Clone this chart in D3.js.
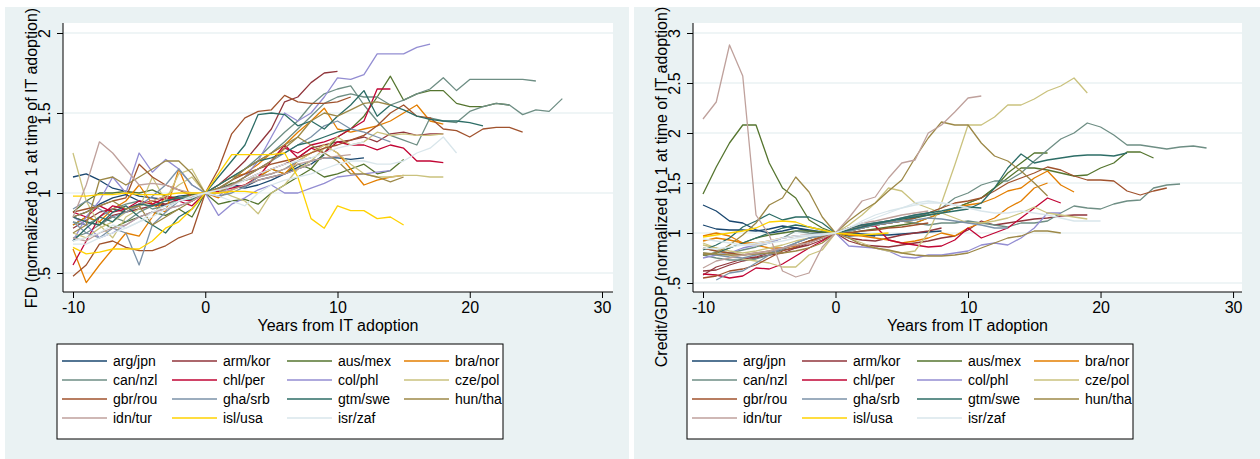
<!DOCTYPE html>
<html lang="en">
<head>
<meta charset="UTF-8">
<title>FD and Credit/GDP around IT adoption</title>
<script src="https://d3js.org/d3.v7.min.js"></script>
<style>
    body { margin: 0; background: #fff; font-family: "Liberation Sans", Arial, sans-serif; }
    svg text { font-family: "Liberation Sans", Arial, sans-serif; fill: #000; }
</style>
</head>
<body>
<svg id="chart" width="1260" height="459"></svg>
<script>
// legend labels, one colour per pair of countries
const pairLabels = ["arg/jpn", "arm/kor", "aus/mex", "bra/nor", "can/nzl", "chl/per", "col/phl",
    "cze/pol", "gbr/rou", "gha/srb", "gtm/swe", "hun/tha", "idn/tur", "isl/usa", "isr/zaf"];

// Stata s2color palette
const palette = ["#1a476f", "#90353b", "#55752f", "#e37e00", "#6e8e84", "#c10534", "#938dd2",
    "#cac27e", "#a0522d", "#7b92a8", "#2d6d66", "#9c8847", "#bfa19c", "#ffd200", "#d9e6eb"];

const firstYear = -10;

// FD, normalized to 1 at IT adoption; every series starts at year -10
const fd_arg_jpn = [
    [1.10,1.12,1.08,1.03,1.01,0.98,0.97,0.96,0.98,0.99,1.00, 1.02,1.04,1.03,1.05,1.08,1.12,1.16,1.20,1.22,1.22,1.21,1.22],
    [0.85,0.88,0.93,0.97,0.99,0.95,0.93,0.92,0.95,0.97,1.00, 1.03,1.05,1.04,1.08,1.10,1.12,1.15,1.18,1.24]];
const fd_arm_kor = [
    [0.85,0.82,0.80,0.86,0.88,0.90,0.92,0.93,0.95,0.97,1.00, 1.05,1.12,1.20,1.30,1.40,1.57,1.60,1.69,1.75,1.76],
    [0.78,0.83,0.88,0.90,0.88,0.92,0.95,0.93,0.96,0.98,1.00, 1.02,1.05,1.08,1.12,1.15,1.18,1.22,1.28,1.30,1.32,1.33,1.35,1.32,1.37,1.38,1.36,1.37,1.37]];
const fd_aus_mex = [
    [0.88,0.95,1.00,1.00,1.01,1.00,1.02,0.98,0.97,0.99,1.00, 0.93,0.95,0.96,0.93,1.00,1.05,1.10,1.15,1.25,1.35,1.40,1.48,1.60,1.73,1.58,1.62,1.64,1.64,1.56,1.54,1.54,1.56,1.55],
    [0.80,0.85,0.82,0.78,0.82,0.85,0.88,0.86,0.90,0.85,1.00, 1.02,1.06,1.08,1.10,1.15,1.12,1.18,1.15,1.10,1.12,1.15,1.18,1.12,1.14,1.21]];
const fd_bra_nor = [
    [0.65,0.44,0.55,0.65,0.75,0.73,0.85,0.98,0.95,0.97,1.00, 1.05,1.10,1.12,1.18,1.25,1.30,1.38,1.45,1.53,1.40,1.38,1.40,1.42,1.45,1.50,1.55,1.45,1.43],
    [0.80,0.85,0.82,0.90,0.95,1.05,0.93,0.88,1.15,0.95,1.00, 0.97,1.02,1.05,1.10,1.15,1.12,1.20,1.25,1.30,1.25,1.15,1.05,1.08,1.10,1.11]];
const fd_can_nzl = [
    [0.72,0.75,0.80,0.85,0.82,0.88,0.92,0.95,0.97,0.98,1.00, 1.02,1.08,1.15,1.20,1.25,1.32,1.40,1.48,1.56,1.60,1.62,1.60,1.60,1.55,1.58,1.62,1.65,1.72,1.64,1.71,1.71,1.71,1.71,1.71,1.70],
    [0.82,0.80,0.85,0.90,0.93,0.95,0.90,0.92,0.96,0.98,1.00, 1.05,1.10,1.15,1.22,1.30,1.38,1.45,1.55,1.62,1.65,1.67,1.55,1.45,1.36,1.33,1.30,1.47,1.45,1.44,1.51,1.54,1.56,1.55,1.49,1.52,1.51,1.59]];
const fd_chl_per = [
    [0.55,0.70,0.85,0.92,0.90,0.95,0.93,0.97,0.95,0.92,1.00, 1.02,1.05,1.10,1.15,1.20,1.28,1.25,1.30,1.32,1.35,1.40,1.45,1.65,1.65],
    [0.88,0.85,0.92,0.88,0.90,0.93,0.95,0.98,0.96,0.95,1.00, 1.01,1.03,1.05,1.10,1.20,1.30,1.22,1.28,1.25,1.32,1.30,1.30,1.27,1.30,1.28,1.20,1.20,1.19]];
const fd_col_phl = [
    [0.70,0.85,0.95,1.10,1.00,1.25,1.13,1.21,1.15,1.05,1.00, 0.98,1.05,1.10,1.20,1.35,1.50,1.45,1.50,1.60,1.72,1.71,1.74,1.87,1.87,1.87,1.91,1.93],
    [0.85,0.80,0.72,0.75,0.80,0.85,0.88,0.90,0.92,0.95,1.00, 0.86,0.93,0.97,1.02,1.05,1.00,1.00,1.03,1.06,1.10,1.11,1.12,1.13,1.14]];
const fd_cze_pol = [
    [1.25,0.95,0.80,0.72,0.85,0.90,1.10,0.95,1.12,1.15,1.00, 1.02,0.98,0.95,0.87,1.00,1.05,1.15,1.20,1.28,1.35,1.30,1.32,1.38,1.36,1.37,1.36,1.36,1.37],
    [0.75,0.72,0.78,0.82,0.88,0.92,0.95,0.98,1.05,1.10,1.00, 1.00,1.05,1.08,1.10,1.12,1.15,1.20,1.25,1.30,1.25,1.18,1.12,1.10,1.10,1.11,1.11,1.10,1.10]];
const fd_gbr_rou = [
    [0.88,0.90,0.92,0.95,0.97,1.18,1.10,1.05,1.02,0.98,1.00, 1.15,1.37,1.47,1.51,1.52,1.61,1.57,1.56,1.56,1.57,1.60],
    [0.48,0.55,0.68,0.70,0.66,0.64,0.64,0.67,0.72,0.75,1.00, 1.03,1.08,1.12,1.15,1.18,1.20,1.22,1.25,1.28,1.30,1.33,1.36,1.42,1.50,1.55,1.48,1.47,1.40,1.39,1.35,1.40,1.41,1.41,1.38]];
const fd_gha_srb = [
    [0.82,0.75,0.72,0.78,0.75,0.55,0.80,0.88,0.95,0.97,1.00, 0.98,1.00,1.04,1.10,1.12,1.15,1.20,1.22],
    [0.90,0.95,0.90,0.85,0.88,0.92,0.98,1.05,1.15,1.05,1.00, 1.02,1.05,1.10,1.15,1.20,1.25,1.30,1.35,1.42,1.45,1.40,1.38,1.35,1.32]];
const fd_gtm_swe = [
    [0.85,0.82,0.80,0.88,0.92,0.85,0.80,0.75,0.85,0.90,1.00, 1.10,1.20,1.30,1.49,1.50,1.49,1.42,1.45,1.40,1.48,1.55,1.64,1.48,1.55,1.52,1.48,1.46,1.45,1.45,1.44,1.42],
    [0.70,0.78,0.85,0.82,0.90,0.93,0.92,0.95,0.97,0.96,1.00, 1.05,1.10,1.15,1.20,1.22,1.25,1.30,1.32,1.35,1.38,1.40]];
const fd_hun_tha = [
    [0.75,0.80,1.08,1.10,1.05,1.10,1.15,1.20,1.20,1.12,1.00, 1.03,1.08,1.15,1.20,1.25,1.30,1.35,1.30,1.25,1.20,1.12,1.12,1.10,1.07,1.10],
    [0.85,0.88,0.92,0.95,0.90,0.92,0.80,0.85,0.90,0.95,1.00, 1.00,1.05,1.10,1.15,1.20,1.28,1.35,1.45,1.50,1.48,1.52,1.56,1.57,1.55]];
const fd_idn_tur = [
    [0.85,1.05,1.32,1.25,1.15,1.05,1.06,1.05,1.02,1.00,1.00, 1.02,1.05,1.08,1.10,1.12,1.15,1.18,1.20,1.22,1.23,1.24],
    [0.72,0.70,0.75,0.78,0.80,0.85,0.88,0.90,0.92,0.95,1.00, 1.00,1.02,1.05,1.08,1.10,1.12,1.15,1.18]];
const fd_isl_usa = [
    [0.98,0.98,0.99,0.99,1.00,0.99,0.99,0.99,1.00,1.00,1.00, 1.00,1.01,1.01,1.00],
    [0.66,0.62,0.63,0.65,0.65,0.65,0.70,0.78,0.82,0.90,1.00, 1.12,1.24,1.24,1.24,1.24,1.25,1.10,0.84,0.78,0.92,0.89,0.89,0.84,0.85,0.80]];
const fd_isr_zaf = [
    [0.70,0.72,0.75,0.80,0.78,0.82,0.88,0.92,0.95,0.97,1.00, 0.98,0.95,0.92,1.00,1.05,1.08,1.10,1.12,1.15,1.18,1.20,1.20,1.18,1.18,1.20,1.25,1.28,1.35,1.25],
    [0.68,0.68,0.72,0.75,0.78,0.82,0.85,0.90,0.95,0.98,1.00, 1.02,1.04,1.08,1.12,1.15,1.18,1.20,1.22,1.25,1.28,1.30,1.32]];

// Credit/GDP, normalized to 1 at IT adoption; null = no data
const cr_arg_jpn = [
    [1.28,1.22,1.12,1.10,1.03,1.00,1.02,1.05,1.03,1.01,1.00, 0.97,0.98,0.97],
    [1.08,1.04,1.03,1.03,1.02,1.04,1.07,1.05,1.02,1.00,1.00, 1.00,0.99,0.98,0.98,0.99,1.00,1.01,1.02]];
const cr_arm_kor = [
    [0.58,0.66,0.70,0.74,0.76,0.80,0.83,0.85,0.90,0.95,1.00, 0.92,0.88,0.87,0.86,0.88,0.90,0.92,0.95,0.97,1.03,1.12,1.08,1.10,1.12,1.14,1.15,1.17,1.18,1.18],
    [0.62,0.63,0.68,0.72,0.75,0.78,0.80,0.85,0.88,0.93,1.00, 0.95,0.93,0.92,0.95,0.98,1.00,1.02,1.05]];
const cr_aus_mex = [
    [1.39,1.66,1.90,2.08,2.08,1.70,1.45,1.35,1.13,1.05,1.00, 1.02,1.05,1.08,1.10,1.12,1.15,1.18,1.20,1.25,1.30,1.35,1.45,1.60,1.70,1.80,1.80],
    [0.78,0.80,0.85,0.90,0.95,0.98,1.00,1.02,1.02,1.01,1.00, 1.00,1.02,1.04,1.06,1.08,1.10,1.15,1.20,1.25,1.30,1.35,1.45,1.55,1.65,1.65,1.63,1.60,1.57,1.58,1.65,1.70,1.81,1.81,1.75]];
const cr_bra_nor = [
    [0.97,1.00,0.97,0.90,0.88,0.85,0.85,0.87,0.92,0.97,1.00, 1.02,1.05,1.08,1.10,1.12,1.10,1.15,1.20,1.25,1.28,1.30,1.35,1.42,1.45,1.55,1.62,1.48,1.41],
    [0.92,0.95,0.93,0.90,0.90,0.92,0.95,0.97,0.98,0.99,1.00, 0.98,0.97,0.95,0.93,0.90,0.92,0.95,1.00,0.97,1.05,1.10,1.15,1.25,1.32,1.45,1.50]];
const cr_can_nzl = [
    [0.85,0.82,0.80,0.83,0.86,0.90,0.95,1.02,1.00,0.99,1.00, 1.05,1.08,1.10,1.12,1.14,1.17,1.20,1.25,1.35,1.40,1.48,1.52,1.52,1.60,1.72,1.83,1.94,2.00,2.10,2.06,1.98,1.88,1.88,1.86,1.84,1.86,1.87,1.85],
    [0.78,0.75,0.73,0.73,0.74,0.78,0.83,0.90,0.95,0.97,1.00, 1.02,1.05,1.08,1.10,1.12,1.10,1.08,1.10,1.10,1.12,1.10,1.08,1.06,1.10,1.10,1.12,1.20,1.27,1.25,1.24,1.29,1.32,1.33,1.45,1.48,1.49]];
const cr_chl_per = [
    [0.59,0.58,0.55,0.57,0.65,0.64,0.69,0.77,0.85,0.92,1.00, 1.05,1.08,1.07,0.93,0.90,0.88,0.86,0.87,0.93,1.05,0.95,1.00,1.05,1.15,1.25,1.35,1.30]];
const cr_col_phl = [
    [0.75,0.78,0.80,0.85,0.88,0.90,0.95,0.97,0.98,0.99,1.00, 0.87,0.86,0.85,0.82,0.76,0.75,0.78,0.78,0.80,0.82,0.88,0.90,0.88,0.95,1.05,1.20,1.20]];
const cr_cze_pol = [
    [0.88,0.85,0.82,0.80,0.82,0.85,0.88,0.92,0.95,0.98,1.00, 0.95,0.90,0.85,0.82,0.80,0.82,1.00,1.30,1.68,2.08,2.08,2.16,2.28,2.28,2.34,2.42,2.47,2.55,2.40],
    [0.90,0.85,0.78,0.74,0.72,0.70,0.66,0.66,0.78,0.83,1.00, 1.08,1.18,1.30,1.45,1.42,1.30,1.25,1.20,1.15,1.10,1.10,1.12,1.15,1.20,1.26,1.20,1.18,1.16,1.14]];
const cr_gbr_rou = [
    [0.55,0.57,0.62,0.64,0.68,0.75,0.82,0.86,0.92,0.95,1.00, 1.03,1.06,1.08,1.10,1.12,1.15,1.20,1.25,1.30,1.32,1.35,1.42,1.50,1.55,1.60,1.66,1.63,1.57,1.53,1.53,1.52,1.42,1.38,1.42,1.45],
    [0.85,0.82,0.80,0.78,0.80,0.82,0.85,0.88,0.92,0.96,1.00, 1.00,1.02,1.03,1.05,1.06,1.08,1.10]];
const cr_gha_srb = [
    [null,0.53,0.60,0.62,0.70,0.78,0.85,0.90,0.95,0.98,1.00, 1.02,1.05,1.08,1.10,1.12,1.13,1.15,1.14,1.12,1.10,1.08,1.05,1.05],
    [0.80,0.78,0.76,0.75,0.78,0.80,0.85,0.90,0.95,0.98,1.00, 1.05,1.08,1.10,1.12,1.15,1.18,1.20]];
const cr_gtm_swe = [
    [0.83,0.88,0.95,1.06,1.12,1.19,1.13,1.16,1.16,1.10,1.00, 1.05,1.08,1.10,1.12,1.14,1.16,1.18,1.20,1.22,1.24,1.30,1.45,1.65,1.79,1.70,1.73,1.75,1.77,1.78,1.78,1.77,1.80],
    [0.78,0.80,0.85,0.90,0.95,1.00,1.05,1.08,1.06,1.03,1.00, 1.03,1.06,1.09,1.12,1.15,1.18,1.20,1.22,1.25,1.26,1.25]];
const cr_hun_tha = [
    [0.78,0.80,0.88,0.98,1.10,1.28,1.35,1.56,1.41,1.16,1.00, 1.12,1.22,1.30,1.42,1.53,1.75,1.95,2.11,2.08,2.08,1.90,1.77,1.72,1.62,1.50,1.37],
    [0.80,0.79,0.78,0.78,0.79,0.80,0.80,0.82,0.85,0.90,1.00, 0.95,0.88,0.85,0.83,0.80,0.78,0.77,0.77,0.78,0.80,0.85,0.90,0.95,0.97,1.02,1.02,1.00]];
const cr_idn_tur = [
    [2.14,2.31,2.88,2.57,1.18,0.98,0.62,0.56,0.60,0.86,1.00, 1.15,1.32,1.36,1.55,1.70,1.73,2.00,2.08,2.21,2.35,2.37],
    [0.65,0.72,0.75,0.78,0.80,0.82,0.85,0.88,0.90,0.95,1.00, 1.05,1.10,1.12,1.15,1.18,1.20,1.22]];
const cr_isl_usa = [
    [0.96,0.98,1.00,1.02,1.05,1.11,1.12,1.11,1.06,1.03,1.00, 0.99,0.98,0.99,1.00]];
const cr_isr_zaf = [
    [0.94,0.92,0.90,0.88,0.88,0.90,0.92,0.95,0.97,0.98,1.00, 1.05,1.10,1.15,1.20,1.25,1.28,1.30,1.30,1.28,1.25,1.22,1.20,1.20,1.22,1.20,1.18,1.15,1.12,1.12,1.12],
    [0.85,0.84,0.86,0.88,0.90,0.92,0.95,0.97,0.98,0.99,1.00, 1.05,1.12,1.18,1.22,1.25,1.30,1.32,1.30,1.28,1.25]];

const fdGroups = [fd_arg_jpn, fd_arm_kor, fd_aus_mex, fd_bra_nor, fd_can_nzl, fd_chl_per, fd_col_phl,
    fd_cze_pol, fd_gbr_rou, fd_gha_srb, fd_gtm_swe, fd_hun_tha, fd_idn_tur, fd_isl_usa, fd_isr_zaf];
const crGroups = [cr_arg_jpn, cr_arm_kor, cr_aus_mex, cr_bra_nor, cr_can_nzl, cr_chl_per, cr_col_phl,
    cr_cze_pol, cr_gbr_rou, cr_gha_srb, cr_gtm_swe, cr_hun_tha, cr_idn_tur, cr_isl_usa, cr_isr_zaf];

const xTicks = [-10, 0, 10, 20, 30];
const fdTicks = [0.5, 1, 1.5, 2];
const fdTickLabels = [".5", "1", "1.5", "2"];
const crTicks = [0.5, 1, 1.5, 2, 2.5, 3];
const crTickLabels = [".5", "1", "1.5", "2", "2.5", "3"];

const svg = d3.select("#chart");
const bgColor = "#eaf2f3";

function drawPanel(p) {
    const g = svg.append("g").attr("transform", `translate(${p.dx},0)`);

    // graph region
    g.append("rect").attr("x", p.bgX).attr("y", 7).attr("width", p.bgW).attr("height", 452)
        .attr("fill", bgColor);
    // plot region
    g.append("rect").attr("x", 63).attr("y", 23).attr("width", p.plotW).attr("height", 269)
        .attr("fill", "#fff");

    const x = d3.scaleLinear().domain([-10, 30]).range([73, 73 + 529 * p.xScale]);
    const y = d3.scaleLinear().domain(p.yDomain).range(p.yRange);

    // gridlines
    g.append("g").selectAll("line").data(p.ticks).enter().append("line")
        .attr("x1", 63).attr("x2", 63 + p.plotW)
        .attr("y1", d => y(d)).attr("y2", d => y(d))
        .attr("stroke", bgColor).attr("stroke-width", 1.5);

    // series
    const line = d3.line()
        .defined(d => d.v != null)
        .x(d => x(d.t))
        .y(d => y(d.v));
    p.groups.forEach((grp, i) => {
        grp.forEach(vals => {
            const pts = vals.map((v, k) => ({ t: firstYear + k, v: v }));
            g.append("path").datum(pts)
                .attr("d", line)
                .attr("fill", "none")
                .attr("stroke", palette[i])
                .attr("stroke-width", 1.3)
                .attr("stroke-linejoin", "round");
        });
    });

    // y axis
    const yAxis = g.append("g").attr("transform", "translate(63,0)")
        .call(d3.axisLeft(y).tickValues(p.ticks).tickSize(6)
            .tickFormat((d, i) => p.tickLabels[i]));
    yAxis.select(".domain").remove();
    yAxis.selectAll(".tick line").attr("stroke", "#000");
    yAxis.selectAll(".tick text")
        .attr("transform", "rotate(-90)")
        .attr("x", 0).attr("y", -13).attr("dy", 0)
        .attr("text-anchor", "middle")
        .style("font-size", "16px");
    g.append("line").attr("x1", 63).attr("x2", 63).attr("y1", 23).attr("y2", 292)
        .attr("stroke", "#000").attr("stroke-width", 1);

    // x axis
    const xAxis = g.append("g").attr("transform", "translate(0,292)")
        .call(d3.axisBottom(x).tickValues(xTicks).tickSize(6).tickPadding(4)
            .tickFormat(d => String(d)));
    xAxis.select(".domain").remove();
    xAxis.selectAll(".tick line").attr("stroke", "#000");
    xAxis.selectAll(".tick text").style("font-size", "16px");
    g.append("line").attr("x1", 63).attr("x2", 63 + p.plotW).attr("y1", 292).attr("y2", 292)
        .attr("stroke", "#000").attr("stroke-width", 1);

    // axis titles
    g.append("text").attr("x", 63 + p.plotW / 2).attr("y", 331)
        .attr("text-anchor", "middle").style("font-size", "16px")
        .text("Years from IT adoption");
    g.append("text").attr("transform", `translate(37,${p.yTitleMid}) rotate(-90)`)
        .attr("text-anchor", "middle").style("font-size", "16px")
        .text(p.yTitle);

    // legend
    const lg = g.append("g");
    lg.append("rect").attr("x", 57).attr("y", 344).attr("width", 446).attr("height", 95)
        .attr("fill", "#fff").attr("stroke", "#000").attr("stroke-width", 1);
    const colX = [62, 172, 287, 404];
    pairLabels.forEach((lab, i) => {
        const cx = colX[i % 4], cy = 361 + 19 * Math.floor(i / 4);
        lg.append("line").attr("x1", cx).attr("x2", cx + 45).attr("y1", cy).attr("y2", cy)
            .attr("stroke", palette[i]).attr("stroke-width", 1.6);
        lg.append("text").attr("x", cx + 51).attr("y", cy + 5)
            .style("font-size", "14px").text(lab);
    });
}

drawPanel({
    dx: 0, bgX: 5, bgW: 624, plotW: 550, xScale: 1,
    yDomain: [0.5, 2], yRange: [273, 33],
    ticks: fdTicks, tickLabels: fdTickLabels, groups: fdGroups,
    yTitle: "FD (normalized to 1 at time of IT adoption)", yTitleMid: 158
});
drawPanel({
    dx: 630, bgX: 4, bgW: 626, plotW: 549, xScale: 1.002,
    yDomain: [0.5, 3], yRange: [283, 33],
    ticks: crTicks, tickLabels: crTickLabels, groups: crGroups,
    yTitle: "Credit/GDP (normalized to 1 at time of IT adoption)", yTitleMid: 187
});
</script>
</body>
</html>
